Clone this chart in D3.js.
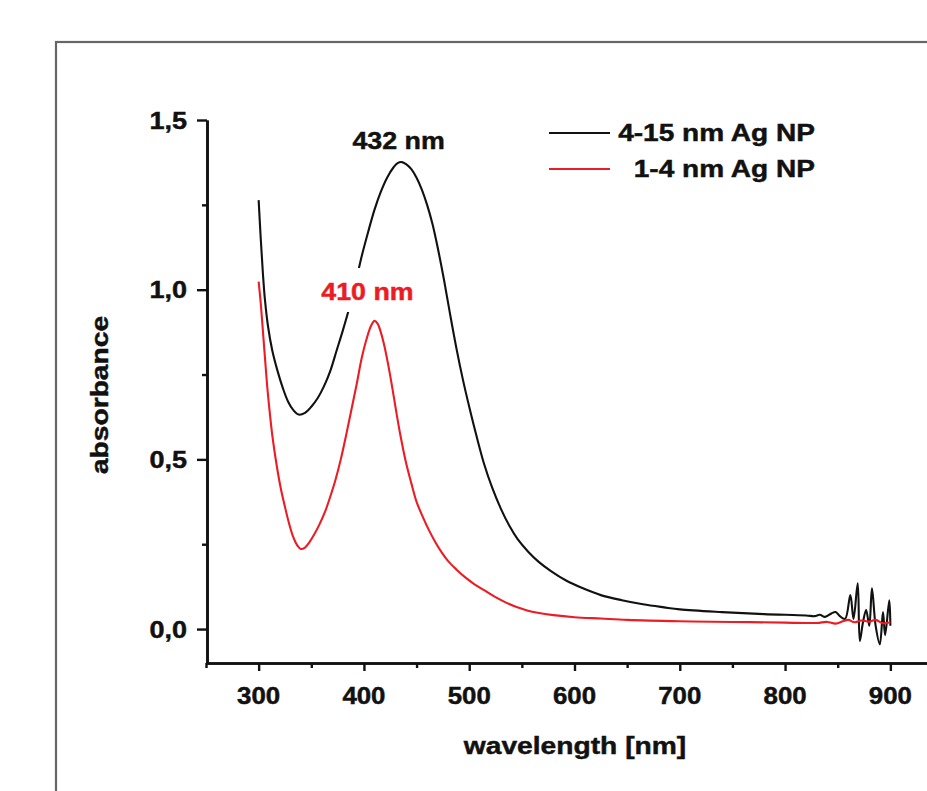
<!DOCTYPE html>
<html>
<head>
<meta charset="utf-8">
<script src="https://cdn.jsdelivr.net/npm/d3@7"></script>
<style>
  body { margin: 0; background: #fff; }
  svg { display: block; }
  text { font-family: "Liberation Sans", Arial, sans-serif; font-weight: bold; }
</style>
</head>
<body>
<svg id="chart" width="927" height="791"></svg>
<script>
// UV-Vis spectra of two silver nanoparticle samples
const seriesNames = ["4-15 nm Ag NP", "1-4 nm Ag NP"];
const seriesColors = ["#111111", "#ec1c24"];

// 4-15 nm Ag NP
const largeWavelength = [300, 302, 304, 306, 309, 313, 318, 323, 328, 333, 338, 344, 350, 356, 362, 368, 374, 380, 386, 392, 398, 404, 410, 416, 422, 428, 432, 436, 440, 445, 450, 455, 460, 465, 470, 476, 482, 488, 494, 500, 507, 514, 522, 530, 538, 546, 556, 566, 578, 592, 608, 625, 645, 665, 685, 700, 740, 780, 820, 828, 833, 838, 844, 848, 852, 857, 862, 865, 869, 871, 874, 877, 880, 882.5, 886, 890, 893, 895, 899, 900];
const largeAbsorbance = [1.264, 1.15, 1.05, 0.97, 0.89, 0.82, 0.76, 0.71, 0.67, 0.645, 0.632, 0.637, 0.655, 0.68, 0.715, 0.76, 0.82, 0.88, 0.945, 1.02, 1.10, 1.17, 1.235, 1.288, 1.33, 1.36, 1.373, 1.376, 1.37, 1.355, 1.33, 1.295, 1.25, 1.195, 1.125, 1.03, 0.925, 0.825, 0.735, 0.655, 0.568, 0.488, 0.415, 0.355, 0.305, 0.265, 0.228, 0.198, 0.17, 0.143, 0.12, 0.10, 0.085, 0.073, 0.064, 0.058, 0.05, 0.044, 0.04, 0.038, 0.042, 0.036, 0.046, 0.05, 0.038, 0.03, 0.10, 0.03, 0.135, -0.035, 0.02, 0.056, 0.01, 0.12, 0.01, -0.045, 0.05, -0.018, 0.085, 0.01];

// 1-4 nm Ag NP
const smallWavelength = [300, 302, 304, 306, 308, 310, 313, 317, 321, 325, 329, 333, 337, 340, 344, 348, 353, 358, 363, 368, 373, 378, 383, 388, 393, 398, 403, 407, 410, 413, 416, 419, 423, 427, 431, 435, 440, 445, 450, 456, 462, 468, 474, 480, 488, 496, 505, 515, 525, 535, 545, 555, 565, 580, 600, 625, 650, 700, 750, 800, 830, 840, 848, 855, 860, 866, 872, 880, 886, 893, 900];
const smallAbsorbance = [1.024, 0.96, 0.88, 0.80, 0.72, 0.655, 0.57, 0.485, 0.415, 0.36, 0.31, 0.27, 0.245, 0.236, 0.24, 0.255, 0.28, 0.31, 0.345, 0.39, 0.44, 0.50, 0.57, 0.645, 0.72, 0.80, 0.86, 0.895, 0.908, 0.90, 0.875, 0.84, 0.78, 0.71, 0.635, 0.565, 0.49, 0.43, 0.375, 0.33, 0.29, 0.255, 0.225, 0.20, 0.175, 0.153, 0.132, 0.113, 0.094, 0.078, 0.065, 0.055, 0.048, 0.041, 0.035, 0.031, 0.027, 0.023, 0.021, 0.019, 0.018, 0.021, 0.016, 0.023, 0.027, 0.02, 0.025, 0.022, 0.027, 0.017, 0.02];

// Axis ticks
const xMajorTicks = [300, 400, 500, 600, 700, 800, 900];
const xTickLabels = ["300", "400", "500", "600", "700", "800", "900"];
const xMinorTicks = [250, 350, 450, 550, 650, 750, 850, 950];
const yMajorTicks = [0, 0.5, 1.0, 1.5];
const yTickLabels = ["0,0", "0,5", "1,0", "1,5"];
const yMinorTicks = [0.25, 0.75, 1.25];

// Peak annotations
const peakLabels = ["432 nm", "410 nm"];
const peakWavelengths = [432, 410];

const svg = d3.select("#chart");
const TEXT_SX = 1.16;

// outer frame
svg.append("rect")
  .attr("x", 56).attr("y", 42)
  .attr("width", 960).attr("height", 800)
  .attr("fill", "#fff")
  .attr("stroke", "#666").attr("stroke-width", 2.2);

const x = d3.scaleLinear().domain([250, 950]).range([206, 943]);
const y = d3.scaleLinear().domain([-0.1, 1.5]).range([663, 120]);

function label(g, txt, px, py, anchor, size, color, sx) {
  const c = color || "#111";
  return g.append("text")
    .attr("transform", `translate(${px},${py}) scale(${sx || TEXT_SX},1)`)
    .attr("text-anchor", anchor)
    .attr("font-size", size)
    .attr("fill", c)
    .attr("stroke", c)
    .attr("stroke-width", 0.45)
    .text(txt);
}

// curves
const line = d3.line()
  .x(d => x(d[0]))
  .y(d => y(d[1]))
  .curve(d3.curveCatmullRom.alpha(0.5));

const plot = svg.append("g");
const seriesData = [
  d3.zip(largeWavelength, largeAbsorbance),
  d3.zip(smallWavelength, smallAbsorbance)
];
seriesData.forEach((pts, i) => {
  plot.append("path")
    .datum(pts)
    .attr("fill", "none")
    .attr("stroke", seriesColors[i])
    .attr("stroke-width", 2.1)
    .attr("stroke-linejoin", "round")
    .attr("d", line);
});

// axes
function styleAxis(g) {
  g.select(".domain").attr("stroke", "#111").attr("stroke-width", 2.6);
  g.selectAll(".tick line").attr("stroke", "#111").attr("stroke-width", 2.4);
  g.selectAll(".tick text").remove();
}
const xAxisMajor = svg.append("g").attr("transform", `translate(0,${y.range()[0]})`)
  .call(d3.axisBottom(x).tickValues(xMajorTicks).tickSize(8).tickSizeOuter(0));
styleAxis(xAxisMajor);
const xAxisMinor = svg.append("g").attr("transform", `translate(0,${y.range()[0]})`)
  .call(d3.axisBottom(x).tickValues(xMinorTicks).tickSize(5).tickSizeOuter(0));
styleAxis(xAxisMinor);

const yAxisMajor = svg.append("g").attr("transform", `translate(${x.range()[0] + 1},0)`)
  .call(d3.axisLeft(y).tickValues(yMajorTicks).tickSize(10).tickSizeOuter(0));
styleAxis(yAxisMajor);
const yAxisMinor = svg.append("g").attr("transform", `translate(${x.range()[0] + 1},0)`)
  .call(d3.axisLeft(y).tickValues(yMinorTicks).tickSize(5).tickSizeOuter(0));
styleAxis(yAxisMinor);

// tick labels
const labels = svg.append("g");
xMajorTicks.forEach((v, i) => label(labels, xTickLabels[i], x(v), 704, "middle", 23.5, "#111", 1.1));
yMajorTicks.forEach((v, i) => label(labels, yTickLabels[i], 187, y(v) + 8.5, "end", 23.5, "#111", 1.15));

// axis titles
label(labels, "wavelength [nm]", 575, 754, "middle", 23.5, "#111", 1.2);
svg.append("text")
  .attr("transform", `translate(108,395) rotate(-90) scale(1.2,1)`)
  .attr("text-anchor", "middle")
  .attr("font-size", 23.5)
  .attr("fill", "#111")
  .attr("stroke", "#111")
  .attr("stroke-width", 0.45)
  .text("absorbance");

// peak annotations
label(labels, peakLabels[0], x(peakWavelengths[0]) + 1, 149, "middle", 23.5, "#111", 1.14);
const redLabel = svg.append("g");
redLabel.append("rect")
  .attr("x", 315).attr("y", 268).attr("width", 104).attr("height", 44)
  .attr("fill", "#fff");
label(redLabel, peakLabels[1], x(peakWavelengths[1]) - 7, 300, "middle", 23.5, seriesColors[1], 1.14);

// legend
const legend = svg.append("g");
const legendRows = [133, 169];
seriesNames.forEach((name, i) => {
  legend.append("line")
    .attr("x1", 549).attr("x2", 610)
    .attr("y1", legendRows[i]).attr("y2", legendRows[i])
    .attr("stroke", seriesColors[i]).attr("stroke-width", 2.1);
  label(legend, name, 815, legendRows[i] + 8, "end", 23, "#111", 1.22);
});
</script>
</body>
</html>
